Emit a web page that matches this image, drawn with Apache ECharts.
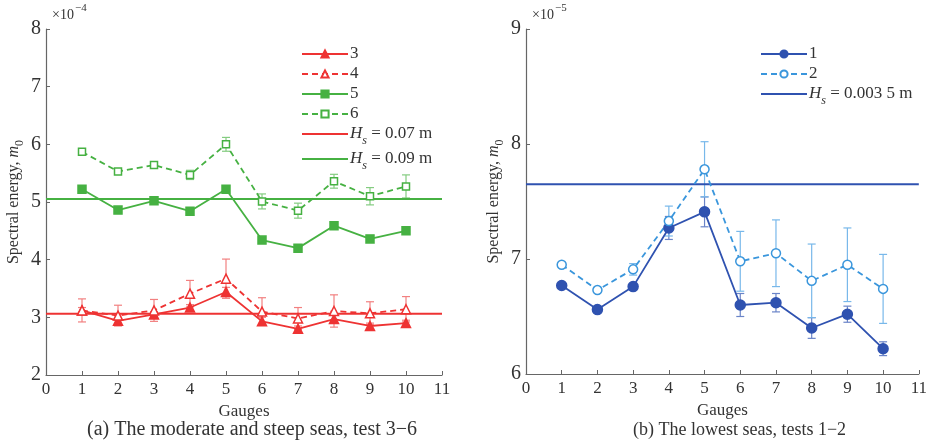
<!DOCTYPE html>
<html>
<head>
<meta charset="utf-8">
<script src="https://cdn.jsdelivr.net/npm/echarts@6/dist/echarts.min.js"></script>
<style>
  html, body { margin: 0; padding: 0; background: #fff; }
  #chart { width: 930px; height: 442px; }
</style>
</head>
<body>
<div id="chart"></div>
<script>
// gauges on the x axis
const gauges = [1, 2, 3, 4, 5, 6, 7, 8, 9, 10];

// panel (a), values in units of 1e-4
const test3 = [3.12, 2.94, 3.05, 3.17, 3.44, 2.93, 2.80, 2.97, 2.85, 2.90];
const test3Err = [0.05, 0.06, 0.05, 0.05, 0.08, 0.07, 0.05, 0.07, 0.05, 0.05];
const test4 = [3.12, 3.03, 3.12, 3.41, 3.67, 3.10, 2.98, 3.11, 3.07, 3.14];
const test4Err = [0.20, 0.18, 0.19, 0.23, 0.34, 0.24, 0.19, 0.28, 0.20, 0.22];
const test5 = [5.22, 4.86, 5.02, 4.84, 5.22, 4.34, 4.20, 4.59, 4.36, 4.50];
const test5Err = [0.03, 0.03, 0.03, 0.06, 0.05, 0.03, 0.03, 0.04, 0.06, 0.05];
const test6 = [5.87, 5.53, 5.64, 5.47, 6.00, 5.01, 4.85, 5.36, 5.10, 5.27];
const test6Err = [0.03, 0.03, 0.03, 0.08, 0.12, 0.13, 0.13, 0.12, 0.15, 0.20];
const hs007 = 3.06;
const hs009 = 5.05;

// panel (b), values in units of 1e-5
const test1 = [6.77, 6.56, 6.76, 7.27, 7.41, 6.60, 6.62, 6.40, 6.52, 6.22];
const test1Err = [0.01, 0.02, 0.02, 0.10, 0.13, 0.10, 0.08, 0.09, 0.07, 0.06];
const test2 = [6.95, 6.73, 6.91, 7.33, 7.78, 6.98, 7.05, 6.81, 6.95, 6.74];
const test2Err = [0.01, 0.02, 0.05, 0.13, 0.24, 0.26, 0.29, 0.32, 0.32, 0.30];
const hs0035 = 7.65;

const xTicks = { min: 0, max: 11, interval: 1 };
const yTicksA = { min: 2, max: 8, interval: 1 };
const yTicksB = { min: 6, max: 9, interval: 1 };

const RED = '#ee3333', RED_E = '#f28080';
const GREEN = '#46b142', GREEN_E = '#84cc80';
const DBLUE = '#2f52b0', DBLUE_E = '#6a84c8';
const LBLUE = '#3a96dc', LBLUE_E = '#78b8ea';
const FONT = 'Liberation Serif';

const pts = vals => gauges.map((g, i) => [g, vals[i]]);
const bars = (vals, errs) => gauges.map((g, i) => [g, vals[i] - errs[i], vals[i] + errs[i]]);

function errorSeries(vals, errs, color, idx) {
    return {
        type: 'custom',
        xAxisIndex: idx,
        yAxisIndex: idx,
        data: bars(vals, errs),
        encode: { x: 0, y: [1, 2] },
        z: 1,
        silent: true,
        renderItem(params, api) {
            const lo = api.coord([api.value(0), api.value(1)]);
            const hi = api.coord([api.value(0), api.value(2)]);
            const w = 4;
            const st = { stroke: color, lineWidth: 1.2 };
            return {
                type: 'group',
                children: [
                    { type: 'line', shape: { x1: lo[0], y1: lo[1], x2: hi[0], y2: hi[1] }, style: st },
                    { type: 'line', shape: { x1: lo[0] - w, y1: lo[1], x2: lo[0] + w, y2: lo[1] }, style: st },
                    { type: 'line', shape: { x1: hi[0] - w, y1: hi[1], x2: hi[0] + w, y2: hi[1] }, style: st }
                ]
            };
        }
    };
}

function lineSeries(name, vals, color, dashed, symbol, filled, size, idx) {
    return {
        name: name,
        type: 'line',
        xAxisIndex: idx,
        yAxisIndex: idx,
        data: pts(vals),
        symbol: symbol,
        symbolSize: size,
        z: 3,
        lineStyle: { color: color, width: 1.8, type: dashed ? [6, 4] : 'solid' },
        itemStyle: { color: filled ? color : '#fff', borderColor: color, borderWidth: 1.5 }
    };
}

function hline(name, val, color, idx) {
    return {
        name: name,
        type: 'line',
        xAxisIndex: idx,
        yAxisIndex: idx,
        data: [[xTicks.min, val], [xTicks.max, val]],
        symbol: 'none',
        z: 2,
        lineStyle: { color: color, width: 2 },
        itemStyle: { color: color }
    };
}

const axisCommon = {
    axisLine: { show: true, lineStyle: { color: '#666', width: 1.2 } },
    axisTick: { show: true, inside: true, length: 4, lineStyle: { color: '#666' } },
    splitLine: { show: false },
    axisLabel: { color: '#333', fontFamily: FONT, fontSize: 17 }
};

function xAxis(idx) {
    return Object.assign({}, axisCommon, {
        type: 'value', gridIndex: idx,
        min: xTicks.min, max: xTicks.max, interval: xTicks.interval,
        name: 'Gauges', nameLocation: 'middle', nameGap: 26,
        nameTextStyle: { color: '#333', fontFamily: FONT, fontSize: 17 },
        axisLabel: { color: '#333', fontFamily: FONT, fontSize: 17, margin: 6 }
    });
}

function yAxis(idx, t, gap) {
    return Object.assign({}, axisCommon, {
        type: 'value', gridIndex: idx,
        min: t.min, max: t.max, interval: t.interval,
        name: '{n|Spectral energy, }{m|m}{s|0}', nameLocation: 'middle', nameGap: gap, nameRotate: 90,
        nameTextStyle: {
            color: '#333', fontFamily: FONT, fontSize: 16,
            rich: {
                n: { fontFamily: FONT, fontSize: 16, color: '#333', lineHeight: 22, verticalAlign: 'bottom' },
                m: { fontFamily: FONT, fontSize: 16, color: '#333', fontStyle: 'italic', lineHeight: 22, verticalAlign: 'bottom' },
                s: { fontFamily: FONT, fontSize: 12, color: '#333', lineHeight: 22, verticalAlign: 'bottom', padding: [0, 0, -4, 0] }
            }
        },
        axisLabel: { color: '#333', fontFamily: FONT, fontSize: 20, margin: 5 }
    });
}

const legendRich = {
    i: { fontFamily: FONT, fontSize: 17, fontStyle: 'italic', color: '#333', lineHeight: 16, verticalAlign: 'bottom' },
    s: { fontFamily: FONT, fontSize: 12, fontStyle: 'italic', color: '#333', lineHeight: 16, verticalAlign: 'bottom', padding: [0, 0, -5, 0] },
    t: { fontFamily: FONT, fontSize: 17, color: '#333', lineHeight: 16, verticalAlign: 'bottom' }
};
const legendLabel = name => {
    const m = name.match(/^Hs(.*)$/);
    return m ? '{i|H}{s|s}{t|' + m[1] + '}' : '{t|' + name + '}';
};
// plain line icon (no marker) for the Hs reference lines
const hsItem = name => ({ name: name, itemStyle: { opacity: 0 } });

const option = {
    animation: false,
    backgroundColor: '#fff',
    textStyle: { fontFamily: FONT },
    grid: [
        { left: 46, top: 29, width: 396, height: 346 },
        { left: 526, top: 29, width: 396, height: 345 }
    ],
    xAxis: [xAxis(0), xAxis(1)],
    yAxis: [yAxis(0, yTicksA, 24), yAxis(1, yTicksB, 24)],
    legend: [
        {
            orient: 'vertical', left: 296, top: 40, itemWidth: 46, itemHeight: 9, itemGap: 3,
            data: ['3', '4', '5', '6', hsItem('Hs = 0.07 m'), hsItem('Hs = 0.09 m')],
            formatter: legendLabel, textStyle: { rich: legendRich, padding: [0, 0, 0, -3] }
        },
        {
            orient: 'vertical', left: 755, top: 40, itemWidth: 46, itemHeight: 9, itemGap: 3,
            data: ['1', '2', hsItem('Hs = 0.003 5 m')],
            formatter: legendLabel, textStyle: { rich: legendRich, padding: [0, 0, 0, -3] }
        }
    ],
    graphic: [
        { type: 'text', left: 52, top: 8, style: { text: '\u00d710', fontFamily: FONT, fontSize: 14, fill: '#333' } },
        { type: 'text', left: 75, top: 3, style: { text: '\u22124', fontFamily: FONT, fontSize: 11, fill: '#333' } },
        { type: 'text', left: 532, top: 8, style: { text: '\u00d710', fontFamily: FONT, fontSize: 14, fill: '#333' } },
        { type: 'text', left: 555, top: 3, style: { text: '\u22125', fontFamily: FONT, fontSize: 11, fill: '#333' } },
        { type: 'text', left: 87, top: 420, style: { text: '(a) The moderate and steep seas, test 3\u22126', fontFamily: FONT, fontSize: 20, fill: '#333' } },
        { type: 'text', left: 633, top: 421, style: { text: '(b) The lowest seas, tests 1\u22122', fontFamily: FONT, fontSize: 18, fill: '#333' } }
    ],
    series: [
        hline('Hs = 0.07 m', hs007, RED, 0),
        hline('Hs = 0.09 m', hs009, GREEN, 0),
        errorSeries(test3, test3Err, RED_E, 0),
        errorSeries(test4, test4Err, RED_E, 0),
        errorSeries(test5, test5Err, GREEN_E, 0),
        errorSeries(test6, test6Err, GREEN_E, 0),
        lineSeries('3', test3, RED, false, 'triangle', true, 9, 0),
        lineSeries('4', test4, RED, true, 'triangle', false, 9, 0),
        lineSeries('5', test5, GREEN, false, 'rect', true, 8, 0),
        lineSeries('6', test6, GREEN, true, 'rect', false, 7, 0),

        hline('Hs = 0.003 5 m', hs0035, DBLUE, 1),
        errorSeries(test1, test1Err, DBLUE_E, 1),
        errorSeries(test2, test2Err, LBLUE_E, 1),
        lineSeries('1', test1, DBLUE, false, 'circle', true, 10, 1),
        lineSeries('2', test2, LBLUE, true, 'circle', false, 9, 1)
    ]
};

const chart = echarts.init(document.getElementById('chart'));
chart.setOption(option);
</script>
</body>
</html>
